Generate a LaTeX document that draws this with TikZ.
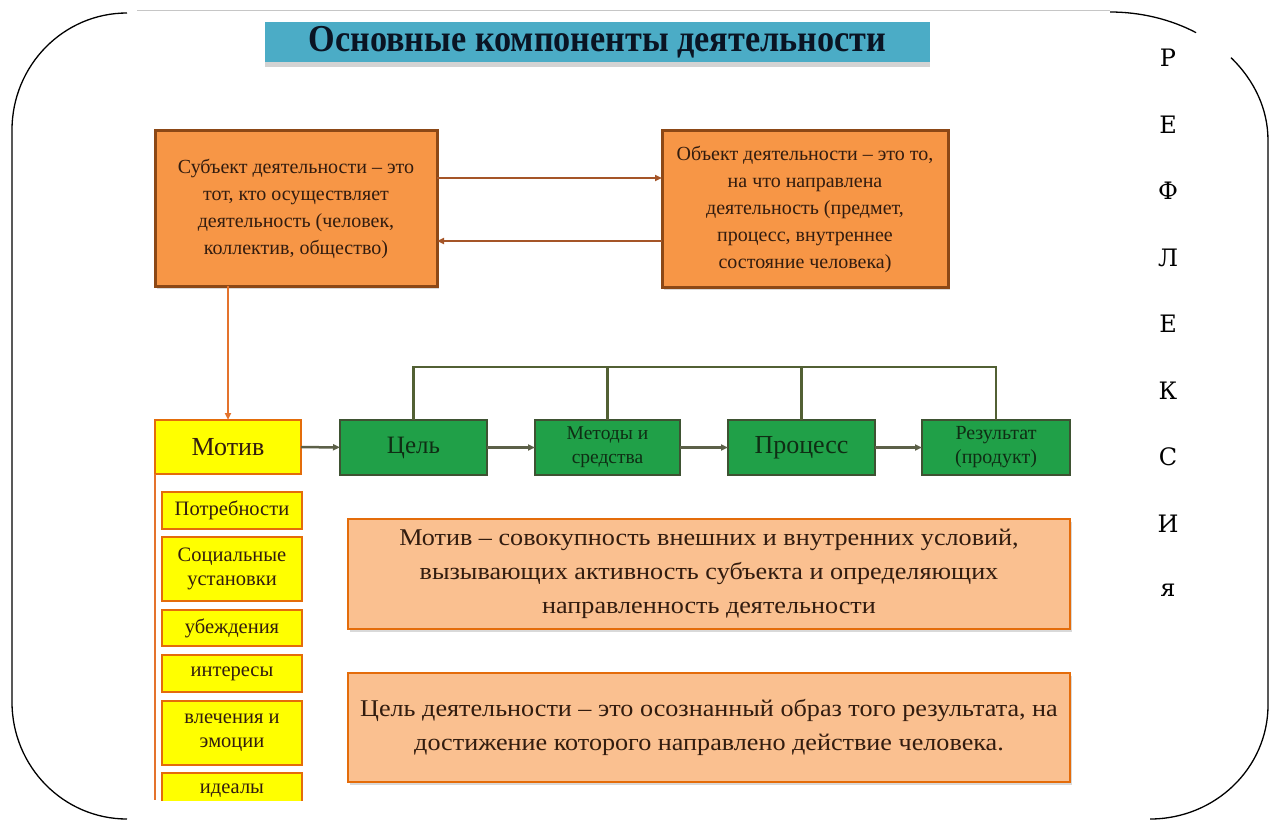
\documentclass[tikz,border=0pt]{standalone}
\usepackage{fontspec}
\setmainfont{Liberation Serif}
\newfontfamily\letfont{DejaVu Serif}
\newfontfamily\widefont[FakeStretch=1.09]{Liberation Serif}
\newfontfamily\titlefont[FakeStretch=0.9]{Liberation Serif Bold}
\usetikzlibrary{arrows.meta,shadows}
\definecolor{orfill}{RGB}{247,150,70}
\definecolor{orborder}{RGB}{140,72,22}
\definecolor{brownarr}{RGB}{165,85,40}
\definecolor{orline}{RGB}{228,115,45}
\definecolor{yel}{RGB}{255,255,0}
\definecolor{yelborder}{RGB}{228,108,10}
\definecolor{grfill}{RGB}{32,160,72}
\definecolor{grborder}{RGB}{62,82,50}
\definecolor{grtext}{RGB}{15,45,20}
\definecolor{olive}{RGB}{82,96,52}
\definecolor{arrgray}{RGB}{92,96,72}
\definecolor{peach}{RGB}{250,192,144}
\definecolor{txtdark}{RGB}{50,28,15}
\definecolor{titleblue}{RGB}{75,172,198}
\definecolor{titletext}{RGB}{10,20,35}
\begin{document}
\begin{tikzpicture}[x=1pt,y=-1pt,
  every node/.style={inner sep=0pt,outer sep=0pt},
  shad/.style={drop shadow={opacity=0.3,shadow xshift=2pt,shadow yshift=-3pt}},
  obox/.style={draw=orborder,line width=3pt,fill=orfill,align=center,text=txtdark,
    font=\fontsize{20}{27}\selectfont,shad},
  ybox/.style={draw=yelborder,line width=2pt,fill=yel,align=center,text=txtdark,
    minimum width=140pt,font=\fontsize{20.5}{24}\selectfont},
  gbox/.style={draw=grborder,line width=2pt,fill=grfill,align=center,text=grtext,
    minimum height=55pt},
  pbox/.style={draw=yelborder,line width=2pt,fill=peach,align=center,text=txtdark,
    minimum width=722pt,font=\widefont\fontsize{24}{34}\selectfont,shad},
  brarr/.style={draw=brownarr,line width=2.5pt,-{Triangle[length=7pt,width=6pt]}},
  grarr/.style={draw=arrgray,line width=2.5pt,-{Triangle[length=7pt,width=6pt]}},
  bracket/.style={draw=olive,line width=2.5pt},
  frame/.style={draw=black,line width=1.3pt},
  letter/.style={font=\letfont\fontsize{24}{24}\selectfont,text=black},
]
\useasboundingbox (0,0) rectangle (1273,821);

% outer frame
\draw[gray!45,line width=1pt] (137,11) -- (1110,11);
\draw[frame] (127,13) arc[start angle=-90,end angle=-180,x radius=115,y radius=117]
  -- (12,702) arc[start angle=180,end angle=90,x radius=115,y radius=117];
\draw[frame] (1110,12) arc[start angle=-90,end angle=-57,x radius=158,y radius=128];
\draw[frame] (1231,57.7) arc[start angle=-40,end angle=0,x radius=158,y radius=128]
  -- (1268,705) arc[start angle=0,end angle=90,x radius=118,y radius=114];

% title
\node[fill=titleblue,minimum width=665pt,minimum height=40pt,text=titletext,
  font=\titlefont\fontsize{38}{38}\selectfont,
  drop shadow={opacity=0.35,shadow xshift=0pt,shadow yshift=-5pt}] (title) at (597.5,42)
  {Основные компоненты деятельности};

% top boxes
\node[obox,minimum width=282pt,minimum height=155pt] (subj) at (296,208.5)
  {Субъект деятельности – это\\тот, кто осуществляет\\деятельность (человек,\\коллектив, общество)};
\node[obox,minimum width=286pt,minimum height=156pt] (obj) at (805,209)
  {Объект деятельности – это то,\\на что направлена\\деятельность (предмет,\\процесс, внутреннее\\состояние человека)};
\draw[brarr] (subj.east |- 0,178) -- (obj.west |- 0,178);
\draw[brarr] (obj.west |- 0,241) -- (subj.east |- 0,241);

% motive and chain
\node[draw=yelborder,line width=2pt,fill=yel,minimum width=146pt,minimum height=54pt,
  text=txtdark,font=\fontsize{26}{26}\selectfont] (motiv) at (228,447) {Мотив};
\draw[draw=orline,line width=2pt,-{Triangle[length=7pt,width=6pt]}] (subj.south -| motiv.north) -- (motiv.north);

\node[gbox,minimum width=147pt,font=\fontsize{25}{25}\selectfont] (cel) at (413.5,447.5) {Цель};
\node[gbox,minimum width=145pt,font=\fontsize{19.5}{24}\selectfont] (met) at (607.5,447.5) {Методы и\\средства};
\node[gbox,minimum width=147pt,font=\fontsize{26}{26}\selectfont] (proc) at (801.5,447.5) {Процесс};
\node[gbox,minimum width=148pt,font=\fontsize{20}{24}\selectfont] (res) at (996,447.5) {Результат\\(продукт)};

\draw[grarr] (motiv) -- (cel);
\draw[grarr] (cel) -- (met);
\draw[grarr] (met) -- (proc);
\draw[grarr] (proc) -- (res);

\draw[bracket] (cel.north) -- (cel.north |- 0,367) -- (res.north |- 0,367) -- (res.north);
\draw[bracket] (met.north) -- (met.north |- 0,367);
\draw[bracket] (proc.north) -- (proc.north |- 0,367);

% motive list
\begin{scope}
\clip (0,0) rectangle (1273,800);
\coordinate (lineend) at (153,800);
\draw[draw=orline,line width=2pt] (motiv.south west) -- (motiv.south west |- lineend);
\node[ybox,minimum height=37pt] (m1) at (232,510) {Потребности};
\node[ybox,minimum height=64pt] (m2) at (232,569) {Социальные\\установки};
\node[ybox,minimum height=36pt] (m3) at (232,628) {убеждения};
\node[ybox,minimum height=37pt] (m4) at (232,673.5) {интересы};
\node[ybox,minimum height=64pt] (m5) at (232,732.5) {влечения и\\эмоции};
\node[ybox,minimum height=36pt] (m6) at (232,791) {идеалы};
\end{scope}

% definitions
\node[pbox,minimum height=110pt] (def1) at (709,574)
  {Мотив – совокупность внешних и внутренних условий,\\вызывающих активность субъекта и определяющих\\направленность деятельности};
\node[pbox,minimum height=109pt] (def2) at (709,727.5)
  {Цель деятельности – это осознанный образ того результата, на\\достижение которого направлено действие человека.};

% vertical word
\foreach \l [count=\i] in {Р,Е,Ф,Л,Е,К,С,И,я}
  \node[letter] (L\i) at (1168,{58+66.5*(\i-1)}) {\l};
\end{tikzpicture}
\end{document}
